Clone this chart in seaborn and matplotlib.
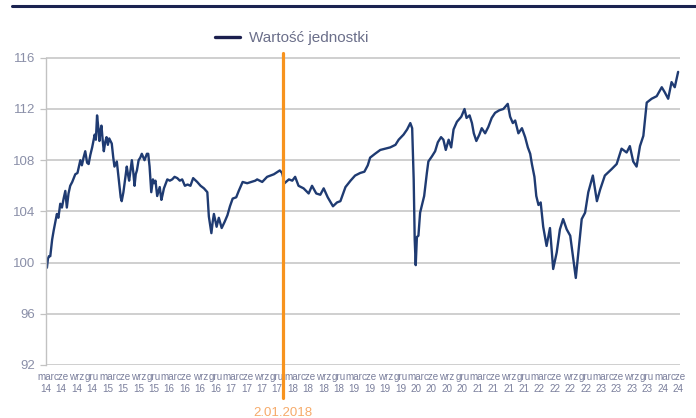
import matplotlib
matplotlib.use("Agg")
import matplotlib.pyplot as plt
from matplotlib.lines import Line2D
import pandas as pd
import seaborn as sns

# ==========================================
# DANE
# ==========================================
DATY = [
    "2014-03-01", "2014-03-08", "2014-03-14", "2014-03-20", "2014-03-28", "2014-04-08", "2014-04-17",
    "2014-05-06", "2014-05-15", "2014-05-26", "2014-06-05", "2014-06-15", "2014-06-25", "2014-07-04",
    "2014-07-14", "2014-07-24", "2014-08-05", "2014-08-23", "2014-09-05", "2014-09-22", "2014-10-01",
    "2014-10-11", "2014-10-21", "2014-11-01", "2014-11-10", "2014-11-20", "2014-12-01", "2014-12-16",
    "2014-12-23", "2014-12-30", "2015-01-06", "2015-01-13", "2015-01-19", "2015-01-25", "2015-02-01",
    "2015-02-08", "2015-02-16", "2015-02-24", "2015-03-04", "2015-03-12", "2015-03-27", "2015-04-05",
    "2015-04-12", "2015-04-26", "2015-05-05", "2015-05-12", "2015-05-19", "2015-05-25", "2015-06-04",
    "2015-06-11", "2015-06-24", "2015-07-01", "2015-07-08", "2015-07-16", "2015-07-24", "2015-08-02",
    "2015-08-09", "2015-08-16", "2015-08-23", "2015-09-02", "2015-09-12", "2015-09-21", "2015-10-07",
    "2015-10-21", "2015-10-29", "2015-11-06", "2015-11-16", "2015-11-26", "2015-12-03", "2015-12-11",
    "2015-12-21", "2016-01-05", "2016-01-15", "2016-01-22", "2016-01-30", "2016-02-19", "2016-03-05",
    "2016-03-19", "2016-04-02", "2016-04-18", "2016-05-03", "2016-05-17", "2016-06-02", "2016-06-18",
    "2016-07-05", "2016-07-21", "2016-08-14", "2016-09-03", "2016-09-23", "2016-10-13", "2016-10-22",
    "2016-10-29", "2016-11-06", "2016-11-14", "2016-11-21", "2016-12-07", "2016-12-20", "2017-01-06",
    "2017-01-24", "2017-02-09", "2017-02-24", "2017-03-12", "2017-04-02", "2017-04-17", "2017-05-10",
    "2017-06-06", "2017-07-01", "2017-07-24", "2017-08-04", "2017-09-03", "2017-10-02", "2017-11-11",
    "2017-12-16", "2017-12-30", "2018-01-06", "2018-01-13", "2018-02-08", "2018-02-28", "2018-03-17",
    "2018-04-06", "2018-05-06", "2018-06-05", "2018-06-25", "2018-07-20", "2018-08-13", "2018-09-02",
    "2018-09-26", "2018-10-27", "2018-11-20", "2018-12-10", "2019-01-09", "2019-02-08", "2019-03-07",
    "2019-04-06", "2019-05-01", "2019-05-21", "2019-06-04", "2019-07-03", "2019-08-03", "2019-09-02",
    "2019-10-01", "2019-11-01", "2019-11-20", "2019-12-19", "2020-01-09", "2020-01-28", "2020-02-08",
    "2020-02-17", "2020-02-23", "2020-02-29", "2020-03-07", "2020-03-16", "2020-03-26", "2020-04-06",
    "2020-04-19", "2020-05-05", "2020-05-14", "2020-06-04", "2020-06-23", "2020-07-09", "2020-07-28",
    "2020-08-11", "2020-08-25", "2020-09-11", "2020-09-26", "2020-10-10", "2020-10-30", "2020-11-25",
    "2020-12-08", "2020-12-14", "2020-12-26", "2021-01-13", "2021-01-27", "2021-02-07", "2021-02-22",
    "2021-03-12", "2021-03-26", "2021-04-15", "2021-05-04", "2021-05-24", "2021-06-13", "2021-07-08",
    "2021-08-01", "2021-08-27", "2021-09-10", "2021-09-26", "2021-10-10", "2021-10-29", "2021-11-19",
    "2021-12-08", "2021-12-24", "2022-01-07", "2022-01-17", "2022-02-01", "2022-02-12", "2022-02-25",
    "2022-03-10", "2022-03-25", "2022-04-14", "2022-05-04", "2022-05-23", "2022-06-13", "2022-07-02",
    "2022-07-21", "2022-08-11", "2022-09-01", "2022-09-20", "2022-10-04", "2022-10-19", "2022-11-08",
    "2022-11-28", "2022-12-17", "2023-01-13", "2023-02-06", "2023-02-25", "2023-03-25", "2023-05-04",
    "2023-06-03", "2023-07-02", "2023-08-01", "2023-08-20", "2023-09-09", "2023-09-29", "2023-10-19",
    "2023-11-08", "2023-11-28", "2023-12-27", "2024-01-26", "2024-02-25", "2024-03-14", "2024-04-03",
    "2024-04-23", "2024-05-12", "2024-06-01",
]
WARTOSCI = [
    100.0, 99.6, 100.3, 100.5, 100.5, 101.8, 102.5,
    103.8, 103.5, 104.6, 104.3, 105.0, 105.6, 104.3,
    105.4, 106.0, 106.3, 106.9, 107.0, 108.0, 107.6,
    108.2, 108.7, 107.8, 107.7, 108.4, 109.0, 110.0,
    109.6, 111.5, 110.6, 109.5, 110.3, 110.7, 109.6,
    108.7, 109.4, 109.8, 109.2, 109.7, 109.3, 108.2,
    107.5, 107.9, 106.8, 105.9, 105.1, 104.8, 105.5,
    106.2, 107.5, 106.9, 106.4, 107.2, 108.0, 107.0,
    106.0, 106.9, 107.2, 108.0, 108.2, 108.5, 108.0,
    108.5, 108.5, 107.5, 105.5, 106.5, 106.2, 106.4,
    105.2, 105.9, 104.9, 105.3, 105.8, 106.5, 106.4,
    106.5, 106.7, 106.6, 106.4, 106.5, 106.0, 106.1,
    106.0, 106.6, 106.3, 106.0, 105.8, 105.5, 103.6,
    103.0, 102.3, 103.2, 103.8, 102.8, 103.5, 102.7,
    103.2, 103.7, 104.4, 105.0, 105.1, 105.6, 106.3,
    106.2, 106.3, 106.4, 106.5, 106.3, 106.7, 106.9,
    107.2, 107.0, 106.6, 106.2, 106.5, 106.4, 106.7,
    106.0, 105.8, 105.4, 106.0, 105.4, 105.3, 105.8,
    105.1, 104.4, 104.7, 104.8, 105.9, 106.4, 106.8,
    107.0, 107.1, 107.6, 108.2, 108.5, 108.8, 108.9,
    109.0, 109.2, 109.6, 110.0, 110.4, 110.9, 110.5,
    106.5, 101.8, 99.8, 102.0, 102.1, 103.9, 104.5,
    105.2, 107.0, 107.9, 108.3, 108.7, 109.4, 109.8,
    109.6, 108.8, 109.6, 109.0, 110.4, 111.0, 111.4,
    111.8, 112.0, 111.3, 111.5, 110.9, 110.1, 109.5,
    110.0, 110.5, 110.1, 110.6, 111.3, 111.7, 111.9,
    112.0, 112.4, 111.4, 110.9, 111.1, 110.1, 110.5,
    109.8, 109.0, 108.5, 107.7, 106.7, 105.2, 104.5,
    104.7, 102.8, 101.3, 102.7, 99.5, 100.8, 102.6,
    103.4, 102.6, 102.1, 100.2, 98.8, 100.8, 103.4,
    103.9, 105.5, 106.8, 104.8, 105.7, 106.8, 107.3,
    107.7, 108.9, 108.6, 109.1, 107.9, 107.5, 109.1,
    109.9, 112.5, 112.8, 113.0, 113.7, 113.3, 112.8,
    114.1, 113.7, 114.9,
]
MIESIACE = ["mar", "cze", "wrz", "gru"]
Y_TICKI = [92, 96, 100, 104, 108, 112, 116]
NAZWA_SERII = "Wartość jednostki"
DATA_ZMIANY = "2018-01-02"
ETYKIETA_ZMIANY = "2.01.2018"

# Kolory
KOLOR_LINII = "#1f3b72"
KOLOR_LEGENDY = "#1b1f4e"
KOLOR_ZMIANY = "#f7931e"
KOLOR_ETYKIETY_ZMIANY = "#f6ab6a"
KOLOR_SIATKI = "#c2c2c2"
KOLOR_TEKSTU = "#7a7f9c"

sns.set_theme(style="white")
plt.rcParams["font.family"] = ["Liberation Sans", "DejaVu Sans"]

df = pd.DataFrame({"data": pd.to_datetime(DATY), "wartosc": WARTOSCI})

fig = plt.figure(figsize=(6.96, 4.18), dpi=100)
ax = fig.add_axes([0.0657, 0.1268, 0.9113, 0.7472])

sns.lineplot(data=df, x="data", y="wartosc", ax=ax, color=KOLOR_LINII,
             linewidth=1.7, legend=False, zorder=2)

# osie
ax.set_ylim(92, 116.4)
ax.set_xlim(pd.Timestamp("2014-03-01"), pd.Timestamp("2024-06-12"))
ax.set_yticks(Y_TICKI)
ax.set_xlabel("")
ax.set_ylabel("")

ticki = pd.date_range("2014-03-01", "2024-06-01", freq="QS-MAR")
etykiety = [f"{MIESIACE[(d.month - 3) // 3]}\n{d.year % 100:02d}" for d in ticki]
ax.set_xticks(ticki)
ax.set_xticklabels(etykiety, fontsize=7.1, color=KOLOR_TEKSTU, linespacing=1.2)
ax.tick_params(axis="x", length=0, pad=5)
ax.tick_params(axis="y", length=4.5, width=0.9, color=KOLOR_SIATKI, pad=3,
               labelsize=9.5, labelcolor="#8a8fa8", left=True)

ax.grid(axis="y", color=KOLOR_SIATKI, linewidth=1.1)
ax.grid(axis="x", visible=False)
for s in ["top", "right", "bottom"]:
    ax.spines[s].set_visible(False)
ax.spines["left"].set_color(KOLOR_SIATKI)
ax.spines["left"].set_linewidth(1.0)
ax.spines["left"].set_bounds(92, 116)

# linia zmiany
data_zmiany = pd.Timestamp(DATA_ZMIANY)
ax.axvline(data_zmiany, ymin=-0.106, ymax=1, color=KOLOR_ZMIANY, linewidth=2.3,
           clip_on=False, zorder=4)
ax.text(data_zmiany, -0.153, ETYKIETA_ZMIANY, transform=ax.get_xaxis_transform(),
        ha="center", va="center", fontsize=9.5, color=KOLOR_ETYKIETY_ZMIANY)

# legenda
fig.legend(handles=[Line2D([], [], color=KOLOR_LEGENDY, linewidth=2.4)],
           labels=[NAZWA_SERII], loc="center", bbox_to_anchor=(0.419, 0.909),
           frameon=False, fontsize=11, handlelength=1.65, handletextpad=0.6,
           labelcolor="#6b6f8a")

# ciemna linia na gorze
fig.add_artist(Line2D([12 / 696, 1.0], [1 - 5.5 / 418] * 2, color="#1b2350",
                      linewidth=2.2, transform=fig.transFigure))

fig.savefig("out.png", dpi=100)
